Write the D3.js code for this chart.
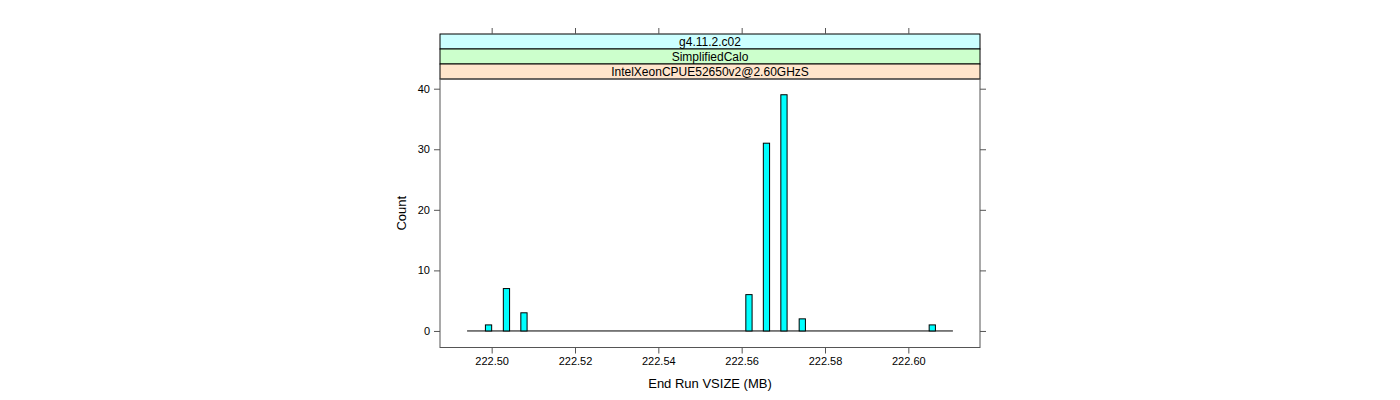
<!DOCTYPE html>
<html>
<head>
<meta charset="utf-8">
<script src="https://cdn.jsdelivr.net/npm/d3@7"></script>
<style>
  html, body { margin: 0; padding: 0; background: #fff; }
  svg { display: block; font-family: "Liberation Sans", Arial, Helvetica, sans-serif; }
</style>
</head>
<body>
<svg id="chart" width="1400" height="400"></svg>
<script>
// ---- data ----
const binStarts = [222.4985, 222.5028, 222.5070, 222.5610, 222.5652, 222.5694, 222.5738, 222.6050];
const counts    = [1, 7, 3, 6, 31, 39, 2, 1];
const binWidth  = 0.0015;
const breaksRange = [222.4941, 222.6107];
const xTicks = [222.50, 222.52, 222.54, 222.56, 222.58, 222.60];
const yTicks = [0, 10, 20, 30, 40];
const stripLabels = ["g4.11.2.c02", "SimplifiedCalo", "IntelXeonCPUE52650v2@2.60GHzS"];
const stripColors = ["#CCFFFF", "#CCFFCC", "#FFE5CC"];
const xTitle = "End Run VSIZE (MB)";
const yTitle = "Count";

// ---- layout ----
const L = 440, R = 980, T = 79, B = 347.5;
const stripH = 15;
const stripTop = T - stripH * stripLabels.length;

const svg = d3.select("#chart");
const x = d3.scaleLinear().domain([222.4876, 222.6172]).range([L, R]);
const y = d3.scaleLinear().domain([-2.73, 41.6]).range([B, T]);

// strips
stripLabels.forEach((lab, i) => {
  const yy = stripTop + i * stripH;
  svg.append("rect").attr("x", L).attr("y", yy).attr("width", R - L).attr("height", stripH)
    .attr("fill", stripColors[i]).attr("stroke", "#000").attr("stroke-width", 1);
  svg.append("text").attr("x", (L + R) / 2).attr("y", yy + stripH / 2 + 4.5)
    .attr("text-anchor", "middle").attr("font-size", 12).attr("fill", "#000").text(lab);
});

// baseline
svg.append("line")
  .attr("x1", x(breaksRange[0])).attr("x2", x(breaksRange[1]))
  .attr("y1", y(0)).attr("y2", y(0))
  .attr("stroke", "#000").attr("stroke-width", 1);

// bars
svg.selectAll("rect.bar").data(binStarts.map((b, i) => ({ b, c: counts[i] })))
  .enter().append("rect").attr("class", "bar")
  .attr("x", d => x(d.b))
  .attr("width", d => x(d.b + binWidth) - x(d.b))
  .attr("y", d => y(d.c))
  .attr("height", d => y(0) - y(d.c))
  .attr("fill", "#00FFFF").attr("stroke", "#000").attr("stroke-width", 1);

// panel box
svg.append("rect").attr("x", L).attr("y", T).attr("width", R - L).attr("height", B - T)
  .attr("fill", "none").attr("stroke", "#555").attr("stroke-width", 1);

// x axis bottom
const xAxisB = d3.axisBottom(x).tickValues(xTicks).tickFormat(d3.format(".2f")).tickSize(6).tickPadding(4);
const gxb = svg.append("g").attr("transform", `translate(0,${B})`).call(xAxisB);
gxb.select(".domain").remove();
gxb.selectAll("line").attr("stroke", "#555");
gxb.selectAll("text").attr("font-size", 11).attr("font-family", "Liberation Sans, Arial, sans-serif").attr("fill", "#000");

// x axis top (ticks only, above strips)
const xAxisT = d3.axisTop(x).tickValues(xTicks).tickFormat("").tickSize(6);
const gxt = svg.append("g").attr("transform", `translate(0,${stripTop})`).call(xAxisT);
gxt.select(".domain").remove();
gxt.selectAll("line").attr("stroke", "#555");

// y axis left
const yAxisL = d3.axisLeft(y).tickValues(yTicks).tickSize(6).tickPadding(4);
const gyl = svg.append("g").attr("transform", `translate(${L},0)`).call(yAxisL);
gyl.select(".domain").remove();
gyl.selectAll("line").attr("stroke", "#555");
gyl.selectAll("text").attr("font-size", 11).attr("font-family", "Liberation Sans, Arial, sans-serif").attr("fill", "#000");

// y axis right (ticks only)
const yAxisR = d3.axisRight(y).tickValues(yTicks).tickSize(6).tickFormat("");
const gyr = svg.append("g").attr("transform", `translate(${R},0)`).call(yAxisR);
gyr.select(".domain").remove();
gyr.selectAll("line").attr("stroke", "#555");

// titles
svg.append("text").attr("x", (L + R) / 2).attr("y", 388).attr("text-anchor", "middle")
  .attr("font-size", 13).attr("fill", "#000").text(xTitle);
svg.append("text").attr("transform", `translate(406,${(T + B) / 2}) rotate(-90)`)
  .attr("text-anchor", "middle").attr("font-size", 13).attr("fill", "#000").text(yTitle);
</script>
</body>
</html>
